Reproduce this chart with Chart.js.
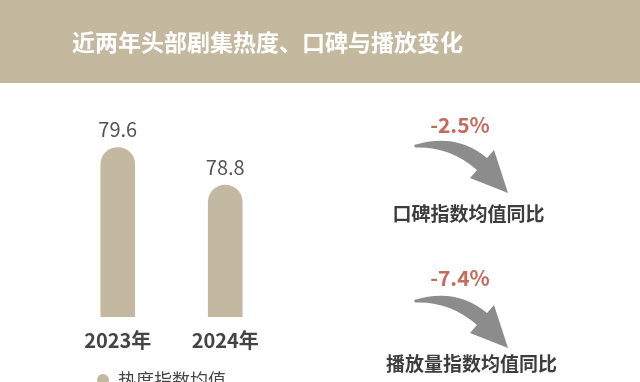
<!DOCTYPE html>
<html><head><meta charset="utf-8">
<script src="https://cdn.jsdelivr.net/npm/chart.js@4/dist/chart.umd.min.js"></script>
<style>html,body{margin:0;padding:0;background:#fff;overflow:hidden;width:640px;height:382px}canvas{display:block}</style>
</head><body>
<canvas id="c" width="640" height="400"></canvas>
<script>
const titleText = '近两年头部剧集热度、口碑与播放变化';
const categories = ['2023年', '2024年'];
const seriesName = '热度指数均值';
const heatValues = [79.6, 78.8];
const changeLabels = ['口碑指数均值同比', '播放量指数均值同比'];
const changeValues = [-2.5, -7.4];

const FONT = '"Noto Sans CJK SC", "Noto Sans", sans-serif';
const BAR = '#c3b9a0';
const BANNER = '#c4b99f';

function drawArrow(ctx, dy) {
  ctx.save();
  ctx.translate(0, dy);
  ctx.fillStyle = '#8c8c8c';
  ctx.beginPath();
  ctx.moveTo(414, 145);
  ctx.quadraticCurveTo(456, 132, 487, 158);
  ctx.lineTo(494, 150);
  ctx.lineTo(508, 193);
  ctx.lineTo(470, 178);
  ctx.lineTo(477, 170);
  ctx.quadraticCurveTo(450, 146, 415, 147.5);
  ctx.closePath();
  ctx.fill();
  ctx.restore();
}

const deco = {
  id: 'deco',
  beforeDraw(chart) {
    const ctx = chart.ctx;
    ctx.save();
    ctx.fillStyle = '#ffffff';
    ctx.fillRect(0, 0, chart.width, chart.height);
    ctx.fillStyle = BANNER;
    ctx.fillRect(0, 0, chart.width, 83);
    ctx.fillStyle = '#ffffff';
    ctx.font = 'bold 23px ' + FONT;
    ctx.textAlign = 'center';
    ctx.textBaseline = 'middle';
    ctx.fillText(titleText, 267.5, 42);
    ctx.restore();
  },
  afterDatasetsDraw(chart) {
    const ctx = chart.ctx;
    const meta = chart.getDatasetMeta(0);
    ctx.save();
    ctx.fillStyle = '#555555';
    ctx.font = '20px ' + FONT;
    ctx.textAlign = 'center';
    ctx.textBaseline = 'middle';
    meta.data.forEach((bar, i) => {
      ctx.fillText(heatValues[i].toFixed(1), bar.x, bar.y - 18);
    });
    const offsets = [0, 155];
    const pctY = [125, 278];
    const labY = [214, 364];
    const labX = [468.5, 471.5];
    changeValues.forEach((v, i) => {
      drawArrow(ctx, offsets[i]);
      ctx.fillStyle = '#c36b5e';
      ctx.font = 'bold 21px ' + FONT;
      ctx.fillText(v.toFixed(1) + '%', 460, pctY[i]);
      ctx.fillStyle = '#3d3d3d';
      ctx.font = 'bold 19px ' + FONT;
      ctx.fillText(changeLabels[i], labX[i], labY[i]);
    });
    ctx.restore();
  }
};

new Chart(document.getElementById('c'), {
  type: 'bar',
  data: {
    labels: categories,
    datasets: [{
      label: seriesName,
      data: heatValues,
      backgroundColor: BAR,
      barThickness: 34,
      borderRadius: {topLeft: 17, topRight: 17, bottomLeft: 0, bottomRight: 0}
    }]
  },
  options: {
    responsive: false,
    animation: false,
    devicePixelRatio: 1,
    layout: {padding: {top: 91, left: 0, right: 317, bottom: 1}},
    plugins: {
      title: {display: false},
      tooltip: {enabled: false},
      legend: {
        position: 'bottom',
        align: 'center',
        labels: {
          usePointStyle: true, pointStyle: 'circle',
          boxWidth: 12, boxHeight: 8.5, padding: 8,
          color: '#444444', font: {family: FONT, size: 18}
        }
      }
    },
    scales: {
      x: {
        grid: {display: false, drawTicks: false},
        border: {display: false},
        ticks: {padding: 11, color: '#444444', font: {family: FONT, size: 20, weight: 'bold'}}
      },
      y: {
        min: 76, max: 80.8,
        grid: {display: false, drawTicks: false},
        border: {display: false},
        ticks: {display: false},
        afterFit(s) { s.width = 64; }
      },
      y2: {
        position: 'right',
        grid: {display: false, drawTicks: false},
        border: {display: false},
        ticks: {display: false},
        afterFit(s) { s.width = 44; }
      }
    }
  },
  plugins: [deco]
});
</script>
</body></html>
